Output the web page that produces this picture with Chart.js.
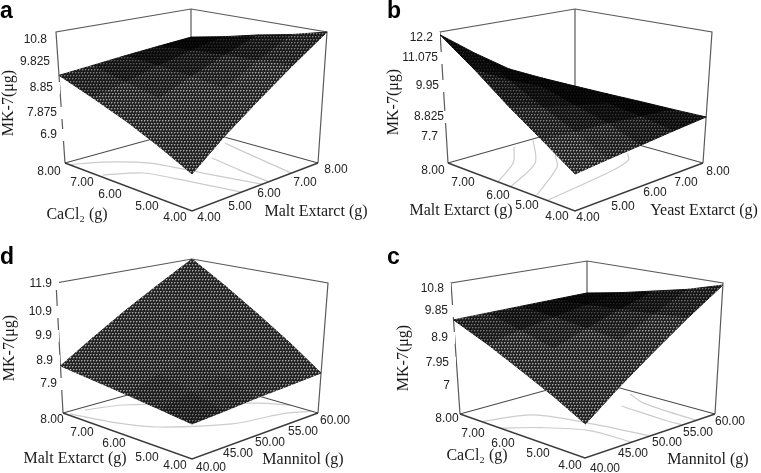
<!DOCTYPE html>
<html><head><meta charset="utf-8">
<style>html,body{margin:0;padding:0;background:#fff}canvas{display:block}</style>
<script src="https://cdn.jsdelivr.net/npm/chart.js@4"></script>
</head><body><canvas id="c" width="761" height="473"></canvas>
<script>
// ---------- tick labels ----------
const gramTicks = ['4.00','5.00','6.00','7.00','8.00'];
const mannitolTicks = ['40.00','45.00','50.00','55.00','60.00'];
const zTicksA = ['6.9','7.875','8.85','9.825','10.8'];
const zTicksB = ['7.7','8.825','9.95','11.075','12.2'];
const zTicksC = ['7','7.95','8.9','9.85','10.8'];
const zTicksD = ['7.9','8.9','9.9','10.9','11.9'];
// ---------- MK-7 read at each axis tick: rows = first factor low→high, cols = second factor low→high ----------
const surfaceA = [[7.89,8.62,9.32,10.05,10.80],[8.33,8.88,9.43,10.00,10.55],[8.75,9.15,9.55,9.95,10.35],[9.13,9.36,9.62,9.88,10.10],[9.51,9.60,9.70,9.79,9.88]];
const surfaceB = [[8.84,8.95,9.05,9.17,9.28],[9.55,9.50,9.45,9.35,9.27],[10.30,10.00,9.75,9.52,9.27],[11.20,10.60,10.10,9.68,9.26],[12.10,11.25,10.45,9.85,9.26]];
const surfaceC = [[7.89,8.60,9.30,10.02,10.74],[8.36,8.88,9.40,9.93,10.45],[8.81,9.17,9.53,9.87,10.22],[9.28,9.46,9.64,9.80,9.98],[9.73,9.74,9.75,9.76,9.77]];
const surfaceD = [[8.86,8.92,9.00,9.06,9.13],[8.98,9.20,9.42,9.62,9.82],[9.10,9.45,9.80,10.15,10.50],[9.22,9.72,10.20,10.70,11.20],[9.35,9.98,10.62,11.25,11.90]];
// ---------- floor contours, [first factor, second factor] ----------
const contoursA = [
 [[7.86,4.0],[7.53,4.72],[6.80,5.47],[5.50,5.85],[4.02,6.23]],
 [[6.92,4.10],[6.43,4.88],[5.74,5.14],[4.0,5.58]],
 [[6.08,6.72],[5.04,6.55],[4.0,6.44]],
 [[6.64,7.68],[5.75,7.49],[4.0,7.16]]];
const contoursB = [
 [[6.43,4.0],[7.08,5.13],[7.86,5.94]],
 [[6.02,4.0],[6.76,5.5],[7.94,6.62]],
 [[5.27,4.07],[6.23,5.66],[6.84,6.21]],
 [[4.88,4.03],[5.20,6.4],[5.43,7.10],[5.79,7.42]]];
const contoursC = [
 [[7.31,40.0],[6.88,46.1],[5.3,48.8],[4.0,50.0]],
 [[6.72,40.0],[6.16,43.4],[5.24,46.7],[4.0,47.2]],
 [[5.98,55.3],[4.48,54.9],[4.0,55.0]],
 [[6.47,59.1],[5.77,57.7],[4.0,57.1]]];
const contoursD = [
 [[7.86,40.4],[6.76,42.2],[5.98,44.5],[4.94,51.1],[4.6,57.1],[4.2,60.0]],
 [[7.84,42.6],[7.55,47.1],[5.52,58.2],[4.88,60.0]]];
// ---------- page layout (pixels on the chart's own x/y scales) ----------
const panels = [
 {letter:'a',letterAt:[0,18],first:gramTicks,second:gramTicks,z:zTicksA,surface:surfaceA,contours:contoursA,
  floor:[[192,211],[65,163],[318,163],[192,128]],top:[[192,65],[56,32],[327,32],[191,9]],
  firstAt:[[175,218],[147,207],[110,195],[82,183],[49,172]],secondAt:[[209,218],[240,207],[269,194],[305,183],[336,170]],
  zAt:[[57,135],[57,113],[53,88],[50,62],[47,40]],
  titles:[['CaCl₂ (g)',77,215],['Malt Extarct (g)',316,212]],ylab:[9,103]},
 {letter:'b',letterAt:[387,18],first:gramTicks,second:gramTicks,z:zTicksB,surface:surfaceB,contours:contoursB,
  floor:[[575,211],[448,163],[703,163],[575,127]],top:[[575,65],[440,32],[712,32],[575,9]],
  firstAt:[[557,217],[527,206],[498,196],[463,183],[433,171]],secondAt:[[588,218],[623,207],[655,193],[686,183],[718,172]],
  zAt:[[438,137],[444,117],[439,86],[438,58],[433,38]],
  titles:[['Malt Extarct (g)',461,211],['Yeast Extarct (g)',704,211]],ylab:[394,102]},
 {letter:'d',letterAt:[0,264],first:gramTicks,second:mannitolTicks,z:zTicksD,surface:surfaceD,contours:contoursD,
  floor:[[192,459],[63,413],[318,413],[192,377]],top:[[192,313],[56,283],[328,283],[192,259]],
  firstAt:[[175,466],[147,458],[114,444],[82,433],[52,420]],secondAt:[[211,468],[238,454],[270,443],[303,432],[335,421]],
  zAt:[[57,384],[53,361],[52,336],[52,312],[52,284]],
  titles:[['Malt Extarct (g)',75,459],['Mannitol (g)',303,460]],ylab:[10,348]},
 {letter:'c',letterAt:[387,264],first:gramTicks,second:mannitolTicks,z:zTicksC,surface:surfaceC,contours:contoursC,
  floor:[[585,458],[460,414],[715,414],[587,379]],top:[[587,313],[451,283],[723,283],[587,261]],
  firstAt:[[570,466],[538,454],[503,444],[473,434],[447,419]],secondAt:[[605,469],[633,454],[667,443],[698,433],[730,422]],
  zAt:[[450,386],[449,363],[448,338],[448,311],[444,289]],
  titles:[['CaCl₂ (g)',477,456],['Mannitol (g)',708,460]],ylab:[404,358]}
];
// ---------- 3-D box projection of data values ----------
function mix(p,q,t){return [p[0]+(q[0]-p[0])*t,p[1]+(q[1]-p[1])*t];}
function quad(c,a,b){return mix(mix(c[0],c[1],a),mix(c[2],c[3],a),b);}
function project(P,a,b,w){const f=quad(P.floor,a,b),t=quad(P.top,a,b),m=mix(f,t,w);return {x:m[0],y:m[1]};}
function frac(ticks,v){const lo=+ticks[0],hi=+ticks[ticks.length-1];return (v-lo)/(hi-lo);}
// ---------- surface texture ----------
function texture(level){
 const t=document.createElement('canvas');t.width=6;t.height=6;const g=t.getContext('2d');
 const base=Math.round(4+32*level),dot=Math.round(20+150*level),half=Math.round(base+(dot-base)*.45);
 g.fillStyle=`rgb(${base},${base},${base})`;g.fillRect(0,0,6,6);
 g.fillStyle=`rgb(${dot},${dot},${dot})`;
 [[0,0],[3,0],[1,3],[4,3]].forEach(p=>g.fillRect(p[0],p[1],1,1));
 g.fillStyle=`rgb(${half},${half},${half})`;
 [[1,0],[4,0],[2,3],[5,3],[0,1],[3,1],[1,4],[4,4]].forEach(p=>g.fillRect(p[0],p[1],1,1));
 return g.createPattern(t,'repeat');
}
const lineSet=(pts,color,width,tension)=>({type:'scatter',data:pts,showLine:true,borderColor:color,borderWidth:width,pointRadius:0,tension:tension||0,fill:false});
const facets=[],frames=[];
for(const P of panels){
 const S=P.surface,n=S.length-1;
 const pt=(i,j)=>project(P,i/n,j/n,frac(P.z,S[i][j]));
 for(let i=0;i<n;i++)for(let j=0;j<n;j++){
  const q=[pt(i,j),pt(i+1,j),pt(i+1,j+1),pt(i,j+1),pt(i,j)];
  let A=0;for(let k=0;k<4;k++)A+=q[k].x*q[k+1].y-q[k+1].x*q[k].y;A=Math.abs(A)/2;
  const level=Math.max(0,Math.min(1,(A-500)/800));
  const pat=texture(level);
  facets.push({type:'scatter',data:q,showLine:true,borderColor:pat,borderWidth:1,backgroundColor:pat,fill:'shape',pointRadius:0,tension:0});
 }
 const c=(a,b,w)=>project(P,a,b,w);
 frames.push(lineSet([c(1,0,0),c(0,0,0),c(0,1,0)],'#3a3a3a',1.4));
 frames.push(lineSet([c(1,0,0),c(1,1,0),c(0,1,0)],'#4a4a4a',1.1));
 frames.push(lineSet([c(1,0,0),c(1,0,1),c(1,1,1),c(0,1,1),c(0,1,0)],'#5a5a5a',1.2));
 frames.push(lineSet([c(1,1,0),c(1,1,1)],'#5a5a5a',1.2));
 for(const line of P.contours){
  const r=P.first,s=P.second;
  frames.push(lineSet(line.map(v=>project(P,frac(r,v[0]),frac(s,v[1]),0)),'#cccccc',1.2,0.3));
 }
}
const labelsPlugin={id:'labels',afterDatasetsDraw(ch){
 const g=ch.ctx,X=ch.scales.x,Y=ch.scales.y;g.save();
 g.textBaseline='middle';
 for(const P of panels){
  const tick='12px "Liberation Sans"';
  g.font=tick;g.textAlign='right';
  P.z.forEach((t,i)=>{const x=X.getPixelForValue(P.zAt[i][0]),y=Y.getPixelForValue(P.zAt[i][1]);
   g.fillStyle='#fff';g.fillRect(x-g.measureText(t).width-1,y-6,g.measureText(t).width+8,12);
   g.fillStyle='#222';g.fillText(t,x,y);});
  g.textAlign='center';g.fillStyle='#222';
  P.first.forEach((t,i)=>g.fillText(t,X.getPixelForValue(P.firstAt[i][0]),Y.getPixelForValue(P.firstAt[i][1])));
  P.second.forEach((t,i)=>g.fillText(t,X.getPixelForValue(P.secondAt[i][0]),Y.getPixelForValue(P.secondAt[i][1])));
  g.font='16px "Liberation Serif"';g.fillStyle='#1a1a1a';
  P.titles.forEach(t=>g.fillText(t[0],X.getPixelForValue(t[1]),Y.getPixelForValue(t[2])));
  g.save();g.translate(X.getPixelForValue(P.ylab[0]),Y.getPixelForValue(P.ylab[1]));g.rotate(-Math.PI/2);g.fillText('MK-7(μg)',0,0);g.restore();
  g.font='bold 23px "Liberation Sans"';g.textAlign='left';g.textBaseline='alphabetic';g.fillStyle='#000';
  g.fillText(P.letter,X.getPixelForValue(P.letterAt[0]),Y.getPixelForValue(P.letterAt[1]));
  g.textBaseline='middle';
 }
 g.restore();
}};
new Chart(document.getElementById('c'),{
 type:'scatter',
 data:{datasets:[...facets,...frames]},
 options:{responsive:false,animation:false,layout:{padding:0},
  plugins:{legend:{display:false},tooltip:{enabled:false}},
  scales:{x:{type:'linear',min:0,max:761,display:false},y:{type:'linear',min:0,max:473,reverse:true,display:false}}},
 plugins:[labelsPlugin]
});
</script></body></html>
